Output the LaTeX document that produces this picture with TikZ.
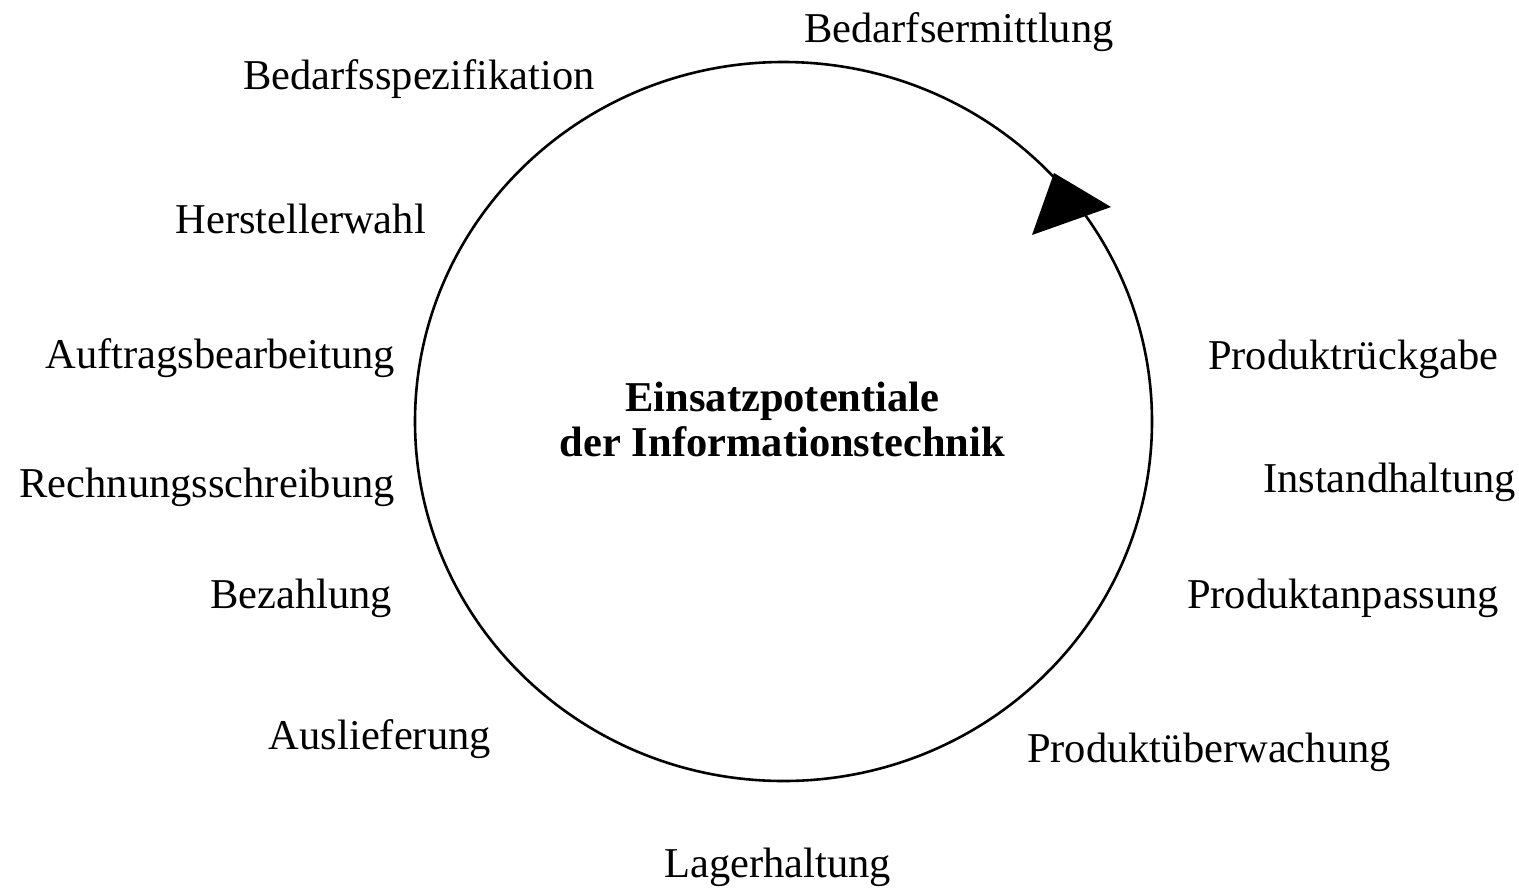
\documentclass[tikz,border=0pt]{standalone}
\usepackage{fontspec}
\setmainfont{Liberation Serif}
\begin{document}
\begin{tikzpicture}[x=1pt,y=-1pt,
  lbl/.style={inner sep=0pt,font=\fontsize{42.5}{51}\selectfont},
  lblL/.style={lbl,anchor=base east},
  lblR/.style={lbl,anchor=base west},
  lblC/.style={lbl,anchor=base},
  ttl/.style={lbl,anchor=base,font=\fontsize{42.5}{51}\selectfont\bfseries},
  cycleline/.style={line width=2.6pt}]
\useasboundingbox (0,0) rectangle (1519,887);

% cycle with direction marker
\draw[cycleline] (783.5,421.5) ellipse [x radius=368.5pt, y radius=359.5pt];
\fill (1054,173) -- (1111,207) -- (1032,235) -- cycle;

% centre title
\node[ttl] (t1) at (782.5,411) {Einsatzpotentiale};
\node[ttl] (t2) at (782.5,456) {der Informationstechnik};

% phases around the cycle
\node[lblC] (ermittlung) at (959,42) {Bedarfsermittlung};
\node[lblL] (spezifikation) at (595,89) {Bedarfsspezifikation};
\node[lblL] (herstellerwahl) at (426,233) {Herstellerwahl};
\node[lblL] (auftrag) at (395,368) {Auftragsbearbeitung};
\node[lblL] (rechnung) at (395,497) {Rechnungsschreibung};
\node[lblL] (bezahlung) at (392,608) {Bezahlung};
\node[lblL] (auslieferung) at (491,749) {Auslieferung};
\node[lblC] (lager) at (777.5,877) {Lagerhaltung};
\node[lblR] (ueberwachung) at (1027,762) {Produktüberwachung};
\node[lblR] (anpassung) at (1187,608) {Produktanpassung};
\node[lblR] (instand) at (1263,492) {Instandhaltung};
\node[lblR] (rueckgabe) at (1208,369) {Produktrückgabe};
\end{tikzpicture}
\end{document}
